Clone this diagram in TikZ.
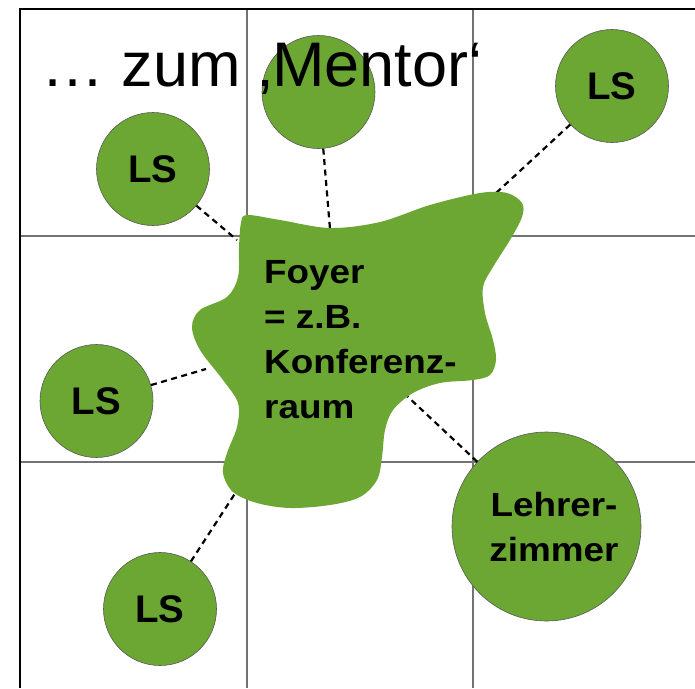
\documentclass[tikz,border=0pt]{standalone}
\usepackage{fontspec}
\setmainfont{Liberation Sans}
\newfontfamily\widesans[FakeStretch=1.1]{Liberation Sans}
\definecolor{leaf}{RGB}{107,167,50}
\begin{document}
\begin{tikzpicture}[x=1pt,y=-1pt,
  frame/.style={line width=2.2pt,black},
  gridline/.style={line width=1.1pt,black!55},
  room/.style={circle,fill=leaf,draw=black!65,line width=0.6pt,inner sep=0pt,
    minimum size=113pt,font=\bfseries\fontsize{38.5}{40}\selectfont},
  link/.style={line width=2.2pt,dash pattern=on 6pt off 4.5pt},
  bigtext/.style={inner sep=0pt,font=\widesans\bfseries\fontsize{33.5}{45}\selectfont},
]
\useasboundingbox (0,0) rectangle (695,688);

% floor grid
\draw[gridline] (247,9) -- (247,688);
\draw[gridline] (473,9) -- (473,688);
\draw[gridline] (20,236) -- (695,236);
\draw[gridline] (20,462) -- (695,462);
\draw[frame] (695,9) -- (20,9) -- (20,688);

% rooms around the foyer
\node[room] (top) at (318.5,92) {};
\node[room] (ls1) at (153,169) {LS};
\node[room] (ls2) at (612,86) {LS};
\node[room] (ls3) at (96.5,401) {LS};
\node[room] (ls4) at (160,609) {LS};
\node[room,minimum size=189pt] (lz) at (546.5,526.5) {};

% points where the paths meet the foyer
\coordinate (f1) at (237,240);
\coordinate (f2) at (330,229);
\coordinate (f3) at (495,194);
\coordinate (f4) at (206,369);
\coordinate (f5) at (236,492);
\coordinate (f6) at (407,396);

% dashed paths from each room to the foyer
\draw[link] (ls1) -- (f1);
\draw[link] (top) -- (f2);
\draw[link] (ls2) -- (f3);
\draw[link] (ls3) -- (f4);
\draw[link] (ls4) -- (f5);
\draw[link] (lz) -- (f6);

% foyer
\fill[leaf] plot[smooth cycle,tension=0.55] coordinates {
  (247,215) (280,220) (330,228) (380,222) (430,205) (480,193) (507,193)
  (522,203) (522,217) (510,240) (493,267) (483,287) (485,313) (493,340)
  (496,360) (490,375) (473,380) (440,383) (413,393) (393,410) (385,430)
  (382,457) (377,480) (360,497) (330,505) (290,508) (257,503) (233,492)
  (223,473) (227,453) (237,427) (238,403) (223,380) (200,350) (192,327)
  (200,310) (227,297) (238,277) (239,247) (241,223)};

% labels (base anchor sits on the last line)
\node[bigtext,anchor=base west,align=left] (foyer) at (264,418.3)
  {Foyer\\= z.B.\\Konferenz-\\raum};
\node[bigtext,anchor=base,align=center] (lzt) at (554,561.7)
  {Lehrer-\\zimmer};
\node[anchor=base west,inner sep=0pt,font=\fontsize{63}{70}\selectfont] (title)
  at (41,86.7) {… zum ‚Mentor‘};
\end{tikzpicture}
\end{document}
